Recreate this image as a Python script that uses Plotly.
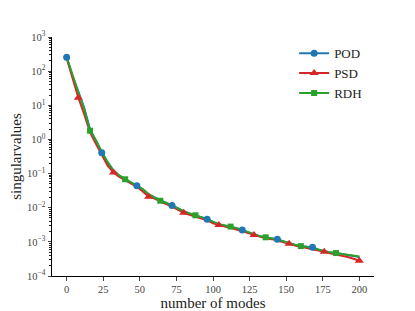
import plotly.graph_objects as go

modes = list(range(0, 201, 4))

pod = [2.57e2, 7.1e1, 2.5e1, 8.5e0, 2.0e0, 9.0e-1, 4.1e-1, 2.0e-1, 1.18e-1, 8.6e-2,
       6.8e-2, 5.4e-2, 4.4e-2, 3.4e-2, 2.45e-2, 2.0e-2, 1.62e-2, 1.38e-2, 1.17e-2, 9.5e-3,
       7.7e-3, 6.6e-3, 5.9e-3, 5.2e-3, 4.6e-3, 3.8e-3, 3.25e-3, 3.0e-3, 2.75e-3, 2.5e-3,
       2.23e-3, 1.9e-3, 1.63e-3, 1.45e-3, 1.35e-3, 1.26e-3, 1.19e-3, 1.03e-3, 9.0e-4, 8.1e-4,
       7.6e-4, 7.2e-4, 6.9e-4, 5.9e-4, 5.3e-4, 4.9e-4, 4.7e-4, 4.4e-4, 4.1e-4, 3.85e-4, 3.6e-4]

psd = [2.4e2, 6.0e1, 1.66e1, 5.5e0, 1.6e0, 7.5e-1, 3.6e-1, 1.7e-1, 1.07e-1, 8.0e-2,
       6.4e-2, 5.1e-2, 4.1e-2, 3.0e-2, 2.1e-2, 1.85e-2, 1.5e-2, 1.28e-2, 1.08e-2, 8.8e-3,
       7.1e-3, 6.2e-3, 5.5e-3, 4.9e-3, 4.3e-3, 3.5e-3, 3.1e-3, 2.8e-3, 2.6e-3, 2.3e-3,
       2.1e-3, 1.8e-3, 1.58e-3, 1.38e-3, 1.28e-3, 1.2e-3, 1.1e-3, 9.7e-4, 8.8e-4, 7.8e-4,
       7.2e-4, 6.8e-4, 6.3e-4, 5.6e-4, 5.1e-4, 4.6e-4, 4.3e-4, 4.0e-4, 3.6e-4, 3.2e-4, 2.8e-4]

rdh = [2.6e2, 7.5e1, 2.4e1, 7.8e0, 1.8e0, 9.5e-1, 4.3e-1, 2.2e-1, 1.25e-1, 8.8e-2,
       6.8e-2, 5.5e-2, 4.5e-2, 3.5e-2, 2.5e-2, 2.05e-2, 1.6e-2, 1.4e-2, 1.18e-2, 9.6e-3,
       7.8e-3, 6.7e-3, 6.0e-3, 5.3e-3, 4.7e-3, 3.9e-3, 3.3e-3, 3.0e-3, 2.8e-3, 2.55e-3,
       2.25e-3, 1.92e-3, 1.65e-3, 1.47e-3, 1.36e-3, 1.27e-3, 1.18e-3, 1.04e-3, 9.1e-4, 8.2e-4,
       7.5e-4, 7.2e-4, 6.8e-4, 6.0e-4, 5.3e-4, 5.0e-4, 4.7e-4, 4.4e-4, 4.1e-4, 3.9e-4, 3.7e-4]

# name, values, colour, symbol, marker size, first marker index, last marker index
series = [
    ("POD", pod, "#1f77b4", "circle", 7, 0, 43),
    ("PSD", psd, "#d62728", "triangle-up", 8, 2, 51),
    ("RDH", rdh, "#2ca02c", "square", 6, 4, 51),
]

x_ticks = [0, 25, 50, 75, 100, 125, 150, 175, 200]
y_exps = [-4, -3, -2, -1, 0, 1, 2, 3]

font = "Liberation Serif, Times New Roman, serif"
fig = go.Figure()
for name, vals, color, sym, ms, off, end in series:
    fig.add_trace(go.Scatter(x=modes, y=vals, mode="lines", line=dict(color=color, width=2),
                             showlegend=False, hoverinfo="skip"))
for name, vals, color, sym, ms, off, end in series:
    fig.add_trace(go.Scatter(x=modes[off:end:6], y=vals[off:end:6], mode="markers",
                             marker=dict(color=color, symbol=sym, size=ms, line=dict(width=0)),
                             showlegend=False))
for name, vals, color, sym, ms, off, end in series:
    fig.add_trace(go.Scatter(x=[None], y=[None], mode="lines+markers", name=name,
                             line=dict(color=color, width=2),
                             marker=dict(color=color, symbol=sym, size=ms, line=dict(width=0))))

minor_vals = [m * 10 ** e for e in range(-4, 3) for m in range(2, 10)]

fig.update_layout(
    width=415, height=311,
    margin=dict(l=44, r=49, t=29, b=43, autoexpand=False),
    plot_bgcolor="white", paper_bgcolor="white",
    font=dict(family=font, size=11, color="#222"),
    legend=dict(x=0.752, y=0.995, xanchor="left", yanchor="top", bgcolor="rgba(0,0,0,0)",
                font=dict(size=13, color="#222"), tracegroupgap=0, itemwidth=30),
    xaxis=dict(range=[-10, 210], tickvals=x_ticks, ticks="outside", ticklen=3.5, tickwidth=0.8,
               showline=True, linecolor="black", linewidth=1, showgrid=False, zeroline=False,
               automargin=False,
               title=dict(text="number of modes", font=dict(size=15), standoff=1),
               tickfont=dict(size=10.5, color="#444")),
    yaxis=dict(type="log", range=[-4, 3], tickvals=[10 ** e for e in y_exps],
               ticktext=[f"10<sup>{e}</sup>" if e >= 0 else f"10<sup>\u2212{-e}</sup>" for e in y_exps],
               ticks="outside", ticklen=3.5, tickwidth=0.8,
               minor=dict(tickvals=minor_vals, ticks="outside", ticklen=2, tickwidth=0.6, tickcolor="#222"),
               showline=True, linecolor="black", linewidth=1, showgrid=False, zeroline=False,
               automargin=False,
               title=dict(text="singularvalues", font=dict(size=15), standoff=6),
               tickfont=dict(size=10.5, color="#444")),
)

fig.write_html("out.html")
